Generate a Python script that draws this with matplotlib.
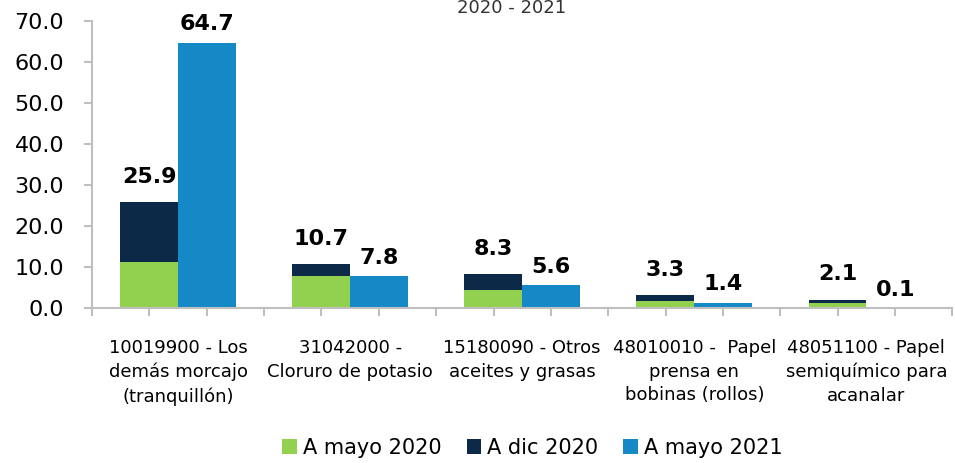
import numpy as np
import matplotlib
matplotlib.use("Agg")
import matplotlib.pyplot as plt
from matplotlib.ticker import FixedLocator

categories = ["10019900 - Los\ndemás morcajo\n(tranquillón)",
              "31042000 -\nCloruro de potasio",
              "15180090 - Otros\naceites y grasas",
              "48010010 -  Papel\nprensa en\nbobinas (rollos)",
              "48051100 - Papel\nsemiquímico para\nacanalar"]
may2020 = [11.2, 7.9, 4.4, 1.7, 1.4]
dic2020_total = [25.9, 10.7, 8.3, 3.3, 2.1]
may2021 = [64.7, 7.8, 5.6, 1.4, 0.1]

green = "#92D050"
navy = "#0C2A48"
blue = "#1589C6"
grey = "#BFBFBF"

plt.rcParams['font.family'] = ['DejaVu Sans']

fig = plt.figure(figsize=(9.55, 4.63), dpi=100)
ax = fig.add_axes([0.0963, 0.334, 0.901, 0.621])

x = np.arange(len(categories))
w = 0.336
dic_extra = np.array(dic2020_total) - np.array(may2020)

ax.bar(x - w/2, may2020, w, color=green, label="A mayo 2020")
ax.bar(x - w/2, dic_extra, w, bottom=may2020, color=navy, label="A dic 2020")
ax.bar(x + w/2, may2021, w, color=blue, label="A mayo 2021")

for i in range(len(x)):
    ax.annotate(f"{dic2020_total[i]:.1f}", (x[i] - w/2, dic2020_total[i]),
                xytext=(0, 11), textcoords="offset points",
                ha="center", va="bottom", fontsize=16, fontweight="bold")
    ax.annotate(f"{may2021[i]:.1f}", (x[i] + w/2, may2021[i]),
                xytext=(0, 6), textcoords="offset points",
                ha="center", va="bottom", fontsize=16, fontweight="bold")

ax.set_xlim(-0.5, len(x) - 0.5)
ax.set_ylim(0, 70)
ax.set_yticks(np.arange(0, 71, 10))
ax.set_yticklabels([f"{v:.1f}" for v in np.arange(0, 71, 10)], fontsize=16)

ax.xaxis.set_major_locator(FixedLocator(x))
ax.set_xticklabels(categories, fontsize=13, linespacing=1.4)
ax.xaxis.set_minor_locator(FixedLocator(np.arange(-0.5, len(x) - 0.4, 1/3)))
ax.tick_params(axis="x", which="major", length=0, pad=22)
ax.tick_params(axis="x", which="minor", length=6, color=grey, width=1.5)
ax.tick_params(axis="y", length=6, color=grey, width=1.5, pad=14)

for s in ["top", "right"]:
    ax.spines[s].set_visible(False)
for s in ["left", "bottom"]:
    ax.spines[s].set_color(grey)
    ax.spines[s].set_linewidth(1.5)

fig.text(0.536, 0.982, "2020 - 2021", ha="center", va="center", fontsize=13, color="#333333")

ax.legend(loc="lower center", bbox_to_anchor=(0.512, -0.585), ncol=3, frameon=False,
          fontsize=15, handlelength=0.7, handleheight=0.7, handletextpad=0.3,
          columnspacing=1.2)

fig.savefig("out.png", dpi=100)
